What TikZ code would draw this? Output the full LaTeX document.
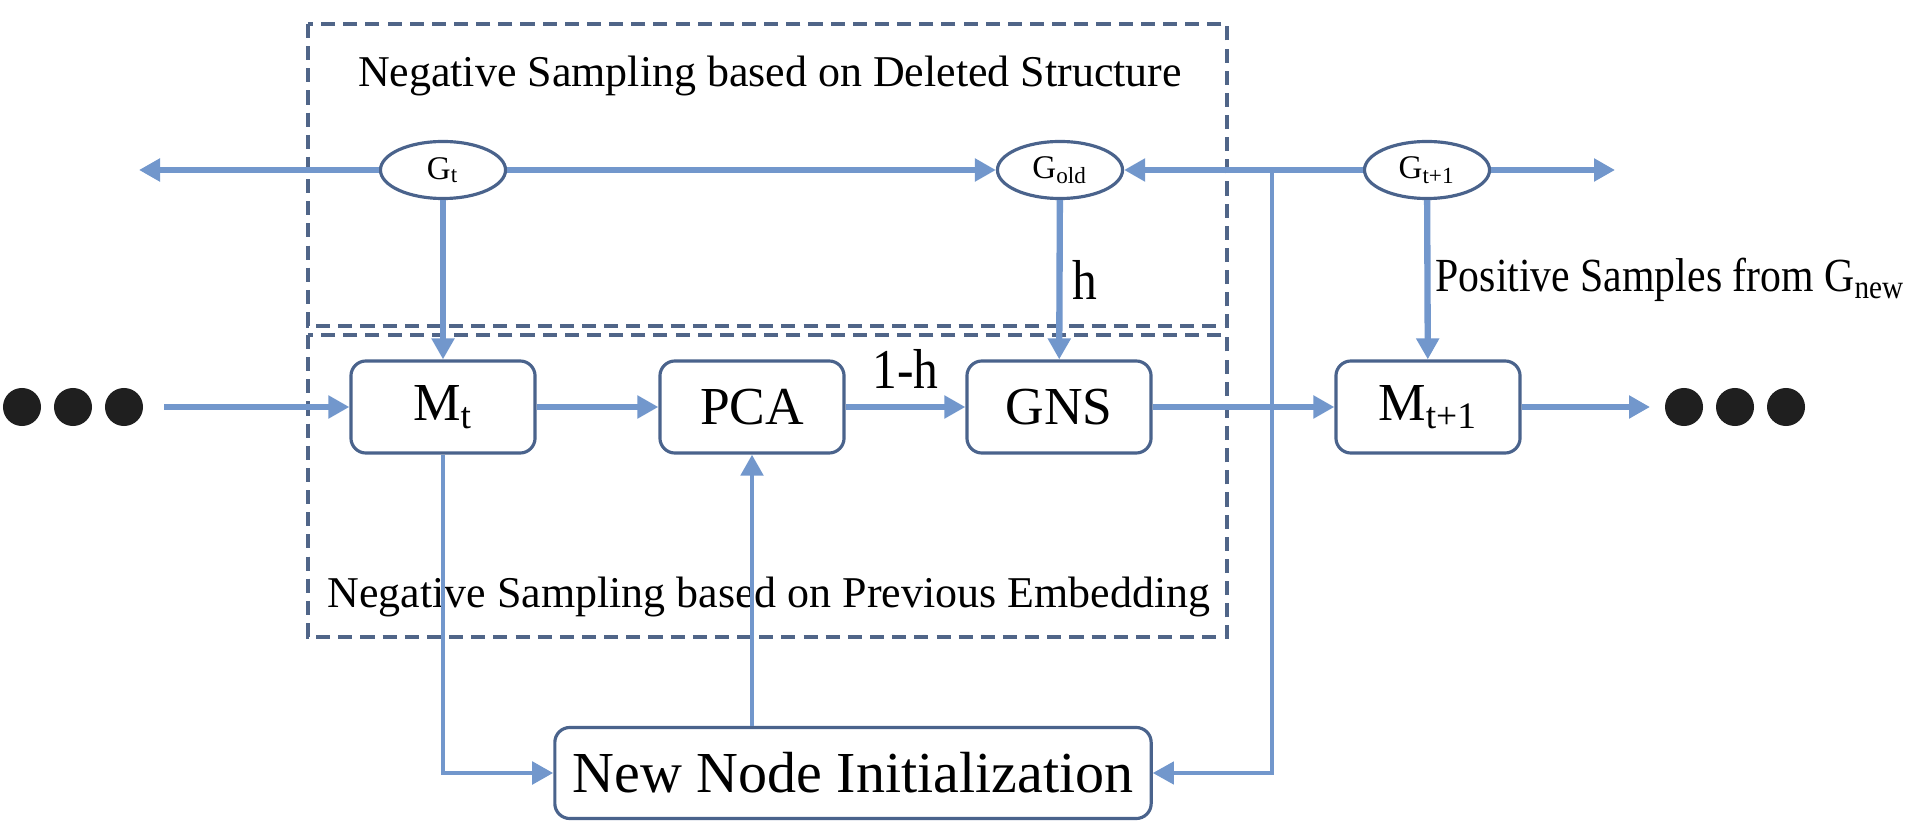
\documentclass[tikz,border=0pt]{standalone}
\usepackage{fontspec}
\setmainfont{Liberation Serif}
\newfontfamily\tallserif[FakeStretch=0.88]{Liberation Serif}
\usepackage{tikz}
\usetikzlibrary{arrows.meta,shapes.geometric}
\definecolor{flow}{RGB}{114,151,204}
\definecolor{frame}{RGB}{80,101,136}
\definecolor{edge}{RGB}{74,99,140}
\begin{document}
\begin{tikzpicture}[x=0.01cm,y=-0.01cm,
    flowline/.style={draw=flow,line width=1.8pt},
    flowarrow/.style={flowline,-{Triangle[length=0.21cm,width=0.22cm]}},
    region/.style={draw=frame,line width=1.1pt,dash pattern=on 4pt off 2.3pt},
    block/.style={draw=edge,line width=0.9pt,rounded corners=0.15cm,minimum width=1.84cm,minimum height=0.92cm,inner sep=0pt,font=\fontsize{15.2}{18}\selectfont},
    graphnode/.style={ellipse,draw=edge,line width=0.9pt,minimum width=1.25cm,minimum height=0.57cm,inner sep=0pt,font=\fontsize{9.4}{11}\selectfont},
    caption/.style={inner sep=0pt,font=\fontsize{12.5}{15}\selectfont},
    weight/.style={inner sep=0pt,font=\tallserif\fontsize{16}{19}\selectfont},
    dot/.style={circle,fill=black!88,inner sep=0pt,minimum size=0.38cm}]
    \useasboundingbox (0,0) rectangle (1918,840);
    \draw[region] (308,24) rectangle (1227,326);
    \draw[region] (308,335) rectangle (1227,637);
    \node[caption,anchor=base] (deltitle) at (770,87) {Negative Sampling based on Deleted Structure};
    \node[caption,anchor=base] (embtitle) at (769,607) {Negative Sampling based on Previous Embedding};
    \node[graphnode] (gt) at (443,170) {G\textsubscript{t}};
    \node[graphnode] (gold) at (1060,170) {G\textsubscript{old}};
    \node[graphnode] (gnext) at (1427,170) {G\textsubscript{t+1}};
    \node[block] (mt) at (443,407) {M\textsubscript{t}};
    \node[block] (pca) at (752,407) {PCA};
    \node[block] (gns) at (1059,407) {GNS};
    \node[block] (mnext) at (1428,407) {M\textsubscript{t+1}};
    \node[block,minimum width=5.96cm,minimum height=0.91cm,font=\fontsize{16.5}{20}\selectfont] (init) at (853,773) {New Node Initialization};
    \foreach \i/\x in {1/22,2/73,3/124} \node[dot] (ldot\i) at (\x,407) {};
    \foreach \i/\x in {1/1684,2/1735,3/1786} \node[dot] (rdot\i) at (\x,407) {};
    \coordinate (leftend) at (139,170);
    \coordinate (rightend) at (1615,170);
    \coordinate (feedin) at (164,407);
    \coordinate (feedout) at (1650,407);
    \coordinate (split) at (1272,170);
    \draw[flowarrow] (gt) -- (leftend);
    \draw[flowarrow] (gt) -- (gold);
    \draw[flowarrow] (gnext) -- (gold);
    \draw[flowarrow] (gnext) -- (rightend);
    \draw[flowarrow] (gt) -- (mt);
    \draw[flowarrow] (gold) -- node[weight,right,xshift=0.1cm] (hlabel) {h} (gns);
    \draw[flowarrow] (gnext) -- node[caption,right,xshift=0.05cm,font=\tallserif\fontsize{13.5}{16}\selectfont] (poslabel) {Positive Samples from G\textsubscript{new}} (mnext);
    \draw[flowarrow] (feedin) -- (mt);
    \draw[flowarrow] (mt) -- (pca);
    \draw[flowarrow] (pca) -- node[weight,above,yshift=0.15cm] (restlabel) {1-h} (gns);
    \draw[flowarrow] (gns) -- (mnext);
    \draw[flowarrow] (mnext) -- (feedout);
    \draw[flowarrow,line width=1.4pt] (mt.south) |- (init.west);
    \draw[flowarrow,line width=1.4pt] (pca |- init.north) -- (pca);
    \draw[flowarrow,line width=1.2pt] (split) |- (init.east);
\end{tikzpicture}
\end{document}
